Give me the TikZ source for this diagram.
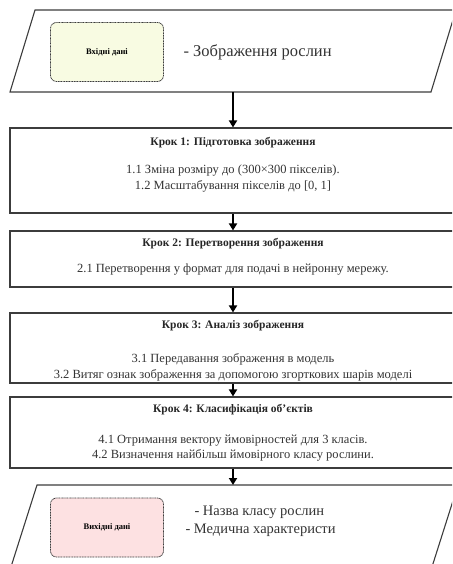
\documentclass[tikz,border=0pt]{standalone}
\usepackage{fontspec}
\setmainfont{Liberation Serif}
\usetikzlibrary{arrows.meta}
\definecolor{inpfill}{HTML}{F8FBE2}
\definecolor{outfill}{HTML}{FDE1E2}
\definecolor{edge}{HTML}{3C3C3C}
\tikzset{
  stepbox/.style={draw=edge, line width=1.1pt, minimum width=446pt, inner sep=0pt},
  databox/.style={draw=edge, line width=0.8pt, dash pattern=on 1pt off 0.6pt, rounded corners=6pt, minimum width=113pt, minimum height=59pt, inner sep=0pt, font=\fontsize{8.5}{10}\selectfont\bfseries},
  iobox/.style={draw=edge, line width=1.1pt},
  flow/.style={line width=2pt, -{Triangle[width=8pt,length=7pt]}},
  title/.style={font=\fontsize{11.5}{13}\selectfont\bfseries, text=black!85},
  body/.style={font=\fontsize{12.5}{15.5}\selectfont, text=black!80, align=center},
  big/.style={font=\fontsize{16.5}{18}\selectfont, text=black!80, align=left}
}
\begin{document}
\begin{tikzpicture}[x=1pt,y=-1pt]
\useasboundingbox (0,0) rectangle (452,564);
\clip (0,0) rectangle (452,564);
% input parallelogram
\draw[iobox] (35,10) -- (456,10) -- (431,92) -- (10,92) -- cycle;
\coordinate (inb) at (233,92);
\node[databox, fill=inpfill] (inbox) at (107,52) {Вхідні дані};
\node[big, anchor=west] (intext) at (180,52) {- Зображення рослин};
% step 1
\node[stepbox, minimum height=85pt] (s1) at (233,170.5) {};
\node[title] (s1t) at (233,143) {Крок 1: Підготовка зображення};
\node[body] (s1b) at (233,178.5) {1.1 Зміна розміру до (300×300 пікселів).\\1.2 Масштабування пікселів до [0, 1]};
% step 2
\node[stepbox, minimum height=56pt] (s2) at (233,259) {};
\node[title] (s2t) at (233,244) {Крок 2: Перетворення зображення};
\node[body] (s2b) at (233,270) {2.1 Перетворення у формат для подачі в нейронну мережу.};
% step 3
\node[stepbox, minimum height=70pt] (s3) at (233,348) {};
\node[title] (s3t) at (233,326) {Крок 3: Аналіз зображення};
\node[body] (s3b) at (233,367.5) {3.1 Передавання зображення в модель\\3.2 Витяг ознак зображення за допомогою згорткових шарів моделі};
% step 4
\node[stepbox, minimum height=71pt] (s4) at (233,432.5) {};
\node[title] (s4t) at (233,410) {Крок 4: Класифікація об'єктів};
\node[body] (s4b) at (233,448) {4.1 Отримання вектору ймовірностей для 3 класів.\\4.2 Визначення найбільш ймовірного класу рослини.};
% output parallelogram
\draw[iobox] (37,485) -- (458,485) -- (431,570) -- (10,570) -- cycle;
\coordinate (outt) at (233,485);
\node[databox, fill=outfill] (outbox) at (107,527.5) {Вихідні дані};
\node[big, font=\fontsize{14.5}{18}\selectfont, anchor=west] (outtext) at (182,521) {\hspace{9pt}- Назва класу рослин\\- Медична характеристи};
% arrows
\draw[flow] (inb) -- (s1.north);
\draw[flow] (s1.south) -- (s2.north);
\draw[flow] (s2.south) -- (s3.north);
\draw[flow] (s3.south) -- (s4.north);
\draw[flow] (s4.south) -- (outt);
\end{tikzpicture}
\end{document}
